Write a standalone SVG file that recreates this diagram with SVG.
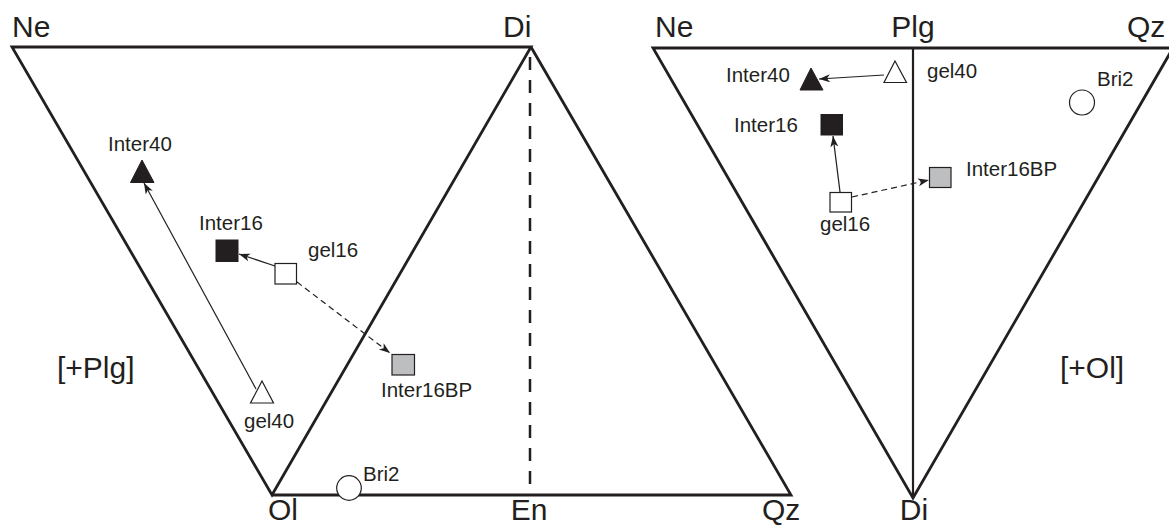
<svg xmlns="http://www.w3.org/2000/svg" width="1169" height="527" viewBox="0 0 1169 527">
<defs>
<marker id="ah" markerUnits="userSpaceOnUse" markerWidth="12" markerHeight="9" refX="11" refY="4" orient="auto">
<path d="M0,0 L11,4 L0,8 L3,4 z" fill="#231f20"/>
</marker>
</defs>
<style>
.frame{fill:none;stroke:#231f20;stroke-width:2.8;stroke-linejoin:miter}
.thin{fill:none;stroke:#231f20;stroke-width:2.2}
.dash{fill:none;stroke:#231f20;stroke-width:2.5;stroke-dasharray:13 10}
.big{font-family:"Liberation Sans",Arial,sans-serif;font-size:30px;fill:#231f20}
.lab{font-family:"Liberation Sans",Arial,sans-serif;font-size:20.5px;fill:#231f20}
.conn{fill:none;stroke:#231f20;stroke-width:1.2;marker-end:url(#ah)}
.dconn{fill:none;stroke:#231f20;stroke-width:1.2;stroke-dasharray:6 4;marker-end:url(#ah)}
.black{fill:#231f20;stroke:#231f20;stroke-width:1}
.open{fill:#ffffff;stroke:#231f20;stroke-width:1.2}
.gray{fill:#bcbec0;stroke:#231f20;stroke-width:1.2}
</style>
<rect width="1169" height="527" fill="#ffffff"/>

<!-- left diagram frame -->
<polygon class="frame" points="12,47 531,47 272,495"/>
<polyline class="frame" points="531,47 791,495 272,495"/>
<line class="dash" x1="530" y1="57" x2="530" y2="486"/>

<!-- right diagram frame -->
<polygon class="frame" points="653,48 1173,48 913,498"/>
<line class="thin" x1="913" y1="48" x2="913" y2="498"/>

<!-- vertex labels -->
<g id="left-Ne"><text class="big" x="12" y="37">Ne</text></g>
<g id="left-Di"><text class="big" x="503" y="37">Di</text></g>
<g id="left-Ol"><text class="big" x="268" y="520">Ol</text></g>
<g id="left-En"><text class="big" x="529" y="520" text-anchor="middle">En</text></g>
<g id="left-Qz"><text class="big" x="762" y="520">Qz</text></g>
<g id="left-plus-Plg"><text class="big" x="57" y="378">[+Plg]</text></g>

<g id="right-Ne"><text class="big" x="655" y="37">Ne</text></g>
<g id="right-Plg"><text class="big" x="913" y="37" text-anchor="middle">Plg</text></g>
<g id="right-Qz"><text class="big" x="1127" y="37">Qz</text></g>
<g id="right-Di"><text class="big" x="914" y="520" text-anchor="middle">Di</text></g>
<g id="right-plus-Ol"><text class="big" x="1060" y="378">[+Ol]</text></g>

<!-- connectors -->
<g id="connectors">
<line class="conn" x1="256" y1="389" x2="144" y2="183"/>
<line class="conn" x1="275" y1="266" x2="239" y2="254"/>
<line class="dconn" x1="297" y1="282" x2="390" y2="353"/>
<line class="conn" x1="884" y1="75" x2="819" y2="79"/>
<line class="conn" x1="840" y1="192" x2="833" y2="136"/>
<line class="dconn" x1="852" y1="197" x2="929" y2="180"/>
</g>

<!-- left diagram data points -->
<g id="left-Inter40">
<polygon class="black" points="142,160 130.5,182.5 154,182.5"/>
<text class="lab" x="108" y="151">Inter40</text>
</g>
<g id="left-gel40">
<polygon class="open" points="262,381 250.5,403 273.5,403"/>
<text class="lab" x="244" y="428">gel40</text>
</g>
<g id="left-Inter16">
<rect class="black" x="216" y="240" width="22" height="21.5"/>
<text class="lab" x="199" y="230">Inter16</text>
</g>
<g id="left-gel16">
<rect class="open" x="275" y="263.5" width="21.5" height="20.5"/>
<text class="lab" x="308" y="257">gel16</text>
</g>
<g id="left-Inter16BP">
<rect class="gray" x="392" y="354.5" width="22.5" height="20.5"/>
<text class="lab" x="381" y="397">Inter16BP</text>
</g>
<g id="left-Bri2">
<circle class="open" cx="349" cy="488" r="12.3"/>
<text class="lab" x="363" y="481">Bri2</text>
</g>

<!-- right diagram data points -->
<g id="right-Inter40">
<polygon class="black" points="811,68 800,90 823,90"/>
<text class="lab" x="726" y="82">Inter40</text>
</g>
<g id="right-gel40">
<polygon class="open" points="895,61 884,82.5 906.5,82.5"/>
<text class="lab" x="927" y="78">gel40</text>
</g>
<g id="right-Inter16">
<rect class="black" x="821" y="114.5" width="21.5" height="20.5"/>
<text class="lab" x="734" y="132">Inter16</text>
</g>
<g id="right-gel16">
<rect class="open" x="830" y="192.5" width="21.5" height="19.5"/>
<text class="lab" x="820" y="231">gel16</text>
</g>
<g id="right-Inter16BP">
<rect class="gray" x="929.5" y="167.5" width="21.5" height="20"/>
<text class="lab" x="966" y="176">Inter16BP</text>
</g>
<g id="right-Bri2">
<circle class="open" cx="1082" cy="102.5" r="12.5"/>
<text class="lab" x="1097" y="86">Bri2</text>
</g>
</svg>
